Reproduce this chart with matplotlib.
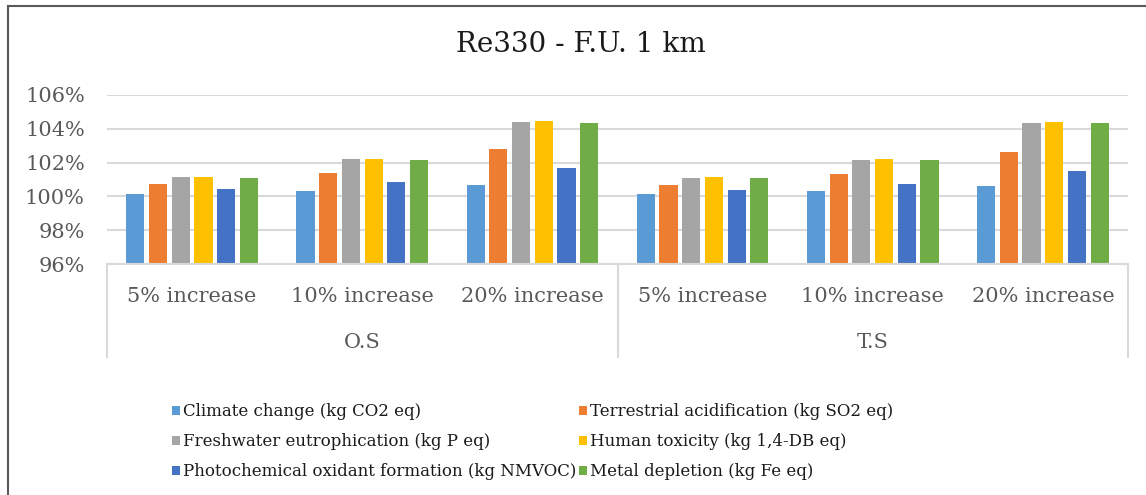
import matplotlib
matplotlib.use("Agg")
import matplotlib.pyplot as plt
from matplotlib.lines import Line2D
import numpy as np

plt.rcParams['font.family'] = ['DejaVu Serif']

title = "Re330 - F.U. 1 km"
groups = ["O.S", "T.S"]
scenarios = ["5% increase", "10% increase", "20% increase"]
series_names = [
    "Climate change (kg CO2 eq)",
    "Terrestrial acidification (kg SO2 eq)",
    "Freshwater eutrophication (kg P eq)",
    "Human toxicity (kg 1,4-DB eq)",
    "Photochemical oxidant formation (kg NMVOC)",
    "Metal depletion (kg Fe eq)",
]
colors = ["#5b9bd5", "#ed7d31", "#a5a5a5", "#ffc000", "#4472c4", "#70ad47"]

# values in percent, order: O.S 5/10/20, T.S 5/10/20
climate = [100.16, 100.33, 100.67, 100.16, 100.32, 100.59]
terrestrial = [100.71, 101.39, 102.79, 100.67, 101.32, 102.63]
freshwater = [101.12, 102.22, 104.43, 101.10, 102.16, 104.32]
human_tox = [101.12, 102.22, 104.47, 101.12, 102.22, 104.41]
photochem = [100.43, 100.85, 101.67, 100.39, 100.75, 101.53]
metal = [101.08, 102.14, 104.32, 101.10, 102.16, 104.34]
series = [climate, terrestrial, freshwater, human_tox, photochem, metal]

yticks = [96, 98, 100, 102, 104, 106]

W, H = 1146, 495
fig = plt.figure(figsize=(W / 100, H / 100), dpi=100)

# plot area in pixels
px_l, px_r, px_t, px_b = 107, 1128, 95, 264
ax = fig.add_axes([px_l / W, 1 - px_b / H, (px_r - px_l) / W, (px_b - px_t) / H])

n_cat = len(groups) * len(scenarios)
x = np.arange(n_cat)
slot = 0.8 / len(series)
bar_w = slot * 0.8
for i, (vals, c) in enumerate(zip(series, colors)):
    offs = -0.4 + slot * (i + 0.5)
    ax.bar(x + offs, np.array(vals) - 96, bottom=96, width=bar_w, color=c,
           label=series_names[i], zorder=3)

ax.set_xlim(-0.5, n_cat - 0.5)
ax.set_ylim(96, 106)
ax.set_yticks(yticks)
ax.set_yticklabels([f"{v}%" for v in yticks], fontsize=15, color="#595959")
ax.tick_params(axis='y', length=0, pad=16)
ax.set_xticks([])
ax.grid(axis='y', color="#d9d9d9", linewidth=1.5, zorder=0)
for s in ["top", "right", "left"]:
    ax.spines[s].set_visible(False)
ax.spines["bottom"].set_color("#d9d9d9")
ax.spines["bottom"].set_linewidth(1.5)
ax.spines["bottom"].set_zorder(4)

# category table below the axis
trans = ax.get_xaxis_transform()
tbl_bottom = -(357 - px_b) / (px_b - px_t)
for xv in [-0.5, 2.5, 5.5]:
    ax.add_line(Line2D([xv, xv], [0, tbl_bottom], transform=trans,
                       color="#d9d9d9", linewidth=1.5, clip_on=False))
lab_y = -(297 - px_b) / (px_b - px_t)
grp_y = -(343 - px_b) / (px_b - px_t)
for k in range(n_cat):
    ax.text(x[k], lab_y, scenarios[k % 3], transform=trans, ha="center",
            va="center", fontsize=15, color="#595959")
for g, name in enumerate(groups):
    ax.text(1 + 3 * g, grp_y, name, transform=trans, ha="center",
            va="center", fontsize=15, color="#595959")

fig.text(581 / W, 1 - 45 / H, title, ha="center", va="center", fontsize=20,
         color="#1a1a1a")

# legend, row-wise order in two columns
handles, labels = ax.get_legend_handles_labels()
order = [0, 2, 4, 1, 3, 5]
fig.legend([handles[i] for i in order], [labels[i] for i in order],
           ncol=2, loc="center left", bbox_to_anchor=(172 / W, 1 - 442 / H),
           frameon=False, fontsize=12, labelcolor="#1a1a1a",
           handlelength=0.5, handleheight=0.5, handletextpad=0.15,
           columnspacing=0.15, labelspacing=0.78, borderpad=0, borderaxespad=0)

# outer chart frame (top and left edges)
fig.add_artist(Line2D([8 / W, 1], [1 - 6 / H, 1 - 6 / H], color="#595959",
                      linewidth=1.5, transform=fig.transFigure))
fig.add_artist(Line2D([8 / W, 8 / W], [0, 1 - 6 / H], color="#595959",
                      linewidth=1.5, transform=fig.transFigure))

fig.savefig("out.png", dpi=100, facecolor="white")
